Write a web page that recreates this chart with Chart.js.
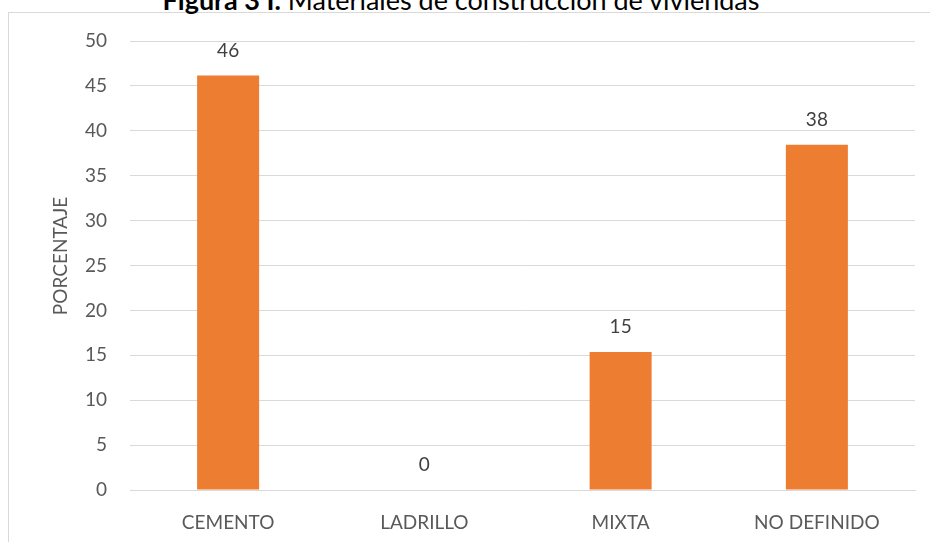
<!DOCTYPE html>
<html lang="es">
<head>
    <meta charset="UTF-8">
    <title>Materiales de construcción de viviendas</title>
    <script src="https://cdn.jsdelivr.net/npm/chart.js"></script>
    <style>
        body { margin: 0; padding: 0; background: #fff; overflow: hidden; }
        .frame {
            position: absolute; left: 8px; top: 12px; width: 940px; height: 560px;
            border: 1px solid #d9d9d9; box-sizing: border-box;
        }
        .title {
            position: absolute; left: 0; width: 922px; top: -17px;
            text-align: center; font-family: Lato, sans-serif; font-size: 27px; color: #000;
        }
        .wrap { position: absolute; left: 0; top: 0; width: 930px; height: 542px; }
    </style>
</head>
<body>
<div class="frame"></div>
<div class="title"><b>Figura 3 I.</b> Materiales de construcción de viviendas</div>
<div class="wrap"><canvas id="chart" width="930" height="542"></canvas></div>

<script>
    const categories = ['CEMENTO', 'LADRILLO', 'MIXTA', 'NO DEFINIDO'];
    const porcentaje = [46.15, 0, 15.38, 38.46];
    const yTicks = [0, 5, 10, 15, 20, 25, 30, 35, 40, 45, 50];

    const FONT = 'Lato, sans-serif';

    // value labels above the bars
    const valueLabels = {
        id: 'valueLabels',
        afterDatasetsDraw(chart) {
            const ctx = chart.ctx;
            const meta = chart.getDatasetMeta(0);
            ctx.save();
            ctx.font = '19px ' + FONT;
            ctx.fillStyle = '#404040';
            ctx.textAlign = 'center';
            ctx.textBaseline = 'middle';
            meta.data.forEach((bar, i) => {
                ctx.fillText(Math.round(porcentaje[i]), bar.x, bar.y - 25);
            });
            ctx.restore();
        }
    };

    // axis title, placed like the original
    const axisTitle = {
        id: 'axisTitle',
        afterDraw(chart) {
            const ctx = chart.ctx;
            ctx.save();
            ctx.translate(61, 256);
            ctx.rotate(-Math.PI / 2);
            ctx.font = '19px ' + FONT;
            ctx.fillStyle = '#595959';
            ctx.textAlign = 'center';
            ctx.textBaseline = 'middle';
            ctx.fillText('PORCENTAJE', 0, 0);
            ctx.restore();
        }
    };

    new Chart(document.getElementById('chart'), {
        type: 'bar',
        data: {
            labels: categories,
            datasets: [{
                data: porcentaje,
                backgroundColor: '#ED7D31',
                categoryPercentage: 1,
                barPercentage: 0.316
            }]
        },
        options: {
            responsive: false,
            animation: false,
            layout: { padding: { top: 41, right: 15, left: 0, bottom: 0 } },
            plugins: { legend: { display: false }, tooltip: { enabled: false } },
            scales: {
                x: {
                    grid: { display: false },
                    border: { color: '#d9d9d9', width: 1 },
                    ticks: { color: '#595959', font: { family: FONT, size: 19 }, padding: 13, maxRotation: 0 },
                    afterFit(s) { s.height = 52; }
                },
                y: {
                    min: 0, max: 50,
                    afterBuildTicks(s) { s.ticks = yTicks.map(v => ({ value: v })); },
                    grid: { color: '#d9d9d9', lineWidth: 1, drawTicks: false },
                    border: { display: false },
                    ticks: { color: '#595959', font: { family: FONT, size: 19 }, padding: 23 },
                    afterFit(s) { s.width = 130; }
                }
            }
        },
        plugins: [valueLabels, axisTitle]
    });
</script>
</body>
</html>
